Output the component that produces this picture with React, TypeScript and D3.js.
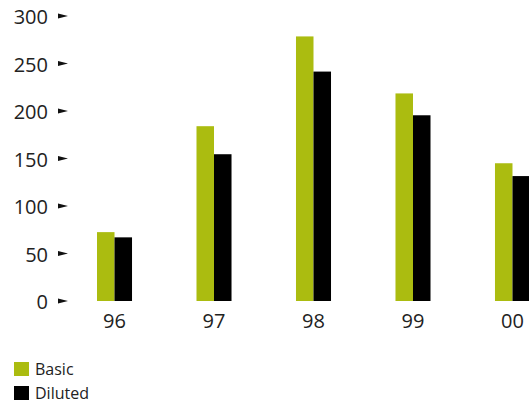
import React from "react";
import * as d3 from "d3";

const years = ["96", "97", "98", "99", "00"];
const seriesNames = ["Basic", "Diluted"];
const basic = [72.5, 184, 278.5, 218.5, 145];
const diluted = [67, 154.5, 241.5, 195.5, 131.5];
const yTicks = [0, 50, 100, 150, 200, 250, 300];
const colors = ["#abbc10", "#000000"];

const W = 529;
const H = 403;
const FONT = "'Open Sans', 'DejaVu Sans', sans-serif";

export default function App() {
  const x = d3
    .scaleBand<string>()
    .domain(years)
    .range([97, 530])
    .paddingInner(0.648)
    .paddingOuter(0);
  const xs = d3.scaleBand<string>().domain(seriesNames).range([0, x.bandwidth()]);
  const y = d3.scaleLinear().domain([0, 300]).range([301, 16]);
  const values = [basic, diluted];

  return (
    <svg
      width={W}
      height={H}
      style={{ position: "absolute", left: 0, top: 0, background: "#fff" }}
      fontFamily={FONT}
    >
      {/* y axis labels with arrow markers */}
      {yTicks.map((t) => (
        <g key={t} transform={`translate(0,${y(t)})`}>
          <text x={48} y={0} dy="0.42em" textAnchor="end" fontSize={20} fill="#222">
            {t}
          </text>
          <path d="M58,-2.5 L68,0 L58,2.5 Z" fill="#111" />
        </g>
      ))}

      {/* bars */}
      {years.map((yr, i) => (
        <g key={yr} transform={`translate(${x(yr)},0)`}>
          {seriesNames.map((s, j) => (
            <rect
              key={s}
              x={xs(s)}
              y={y(values[j][i])}
              width={xs.bandwidth()}
              height={y(0) - y(values[j][i])}
              fill={colors[j]}
            />
          ))}
          <text
            x={x.bandwidth() / 2}
            y={328}
            textAnchor="middle"
            fontSize={20}
            fill="#222"
          >
            {yr}
          </text>
        </g>
      ))}

      {/* legend */}
      {seriesNames.map((s, j) => (
        <g key={s} transform={`translate(14,${362 + j * 24})`}>
          <rect x={0} y={0} width={15} height={14} fill={colors[j]} />
          <text x={21} y={13} fontSize={16} fill="#222">
            {s}
          </text>
        </g>
      ))}
    </svg>
  );
}
